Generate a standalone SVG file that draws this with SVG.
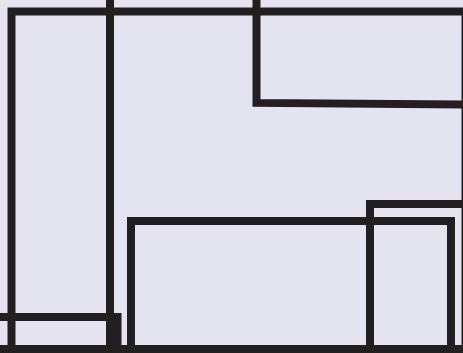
<svg xmlns="http://www.w3.org/2000/svg" width="463" height="353" viewBox="0 0 463 353">
<style>
.b{fill:none;stroke:#231f20;stroke-width:8;stroke-linejoin:miter}
</style>
<rect x="0" y="0" width="463" height="353" fill="#e4e4f0"/>
<g id="outer"><rect class="b" x="11.5" y="11.5" width="454" height="337.5"/></g>
<g id="left-column"><line class="b" x1="110" y1="-10" x2="110" y2="349"/></g>
<g id="top-right"><polygon class="b" points="256.5,-20 256.5,102.9 475,104.7 475,-20"/></g>
<g id="bottom-left"><rect class="b" x="-20" y="317" width="137.5" height="32"/></g>
<g id="bottom-middle"><rect class="b" x="131" y="221" width="320" height="128"/></g>
<g id="bottom-right"><rect class="b" x="370" y="204" width="110" height="145"/></g>
<g id="connectors"></g>
</svg>
